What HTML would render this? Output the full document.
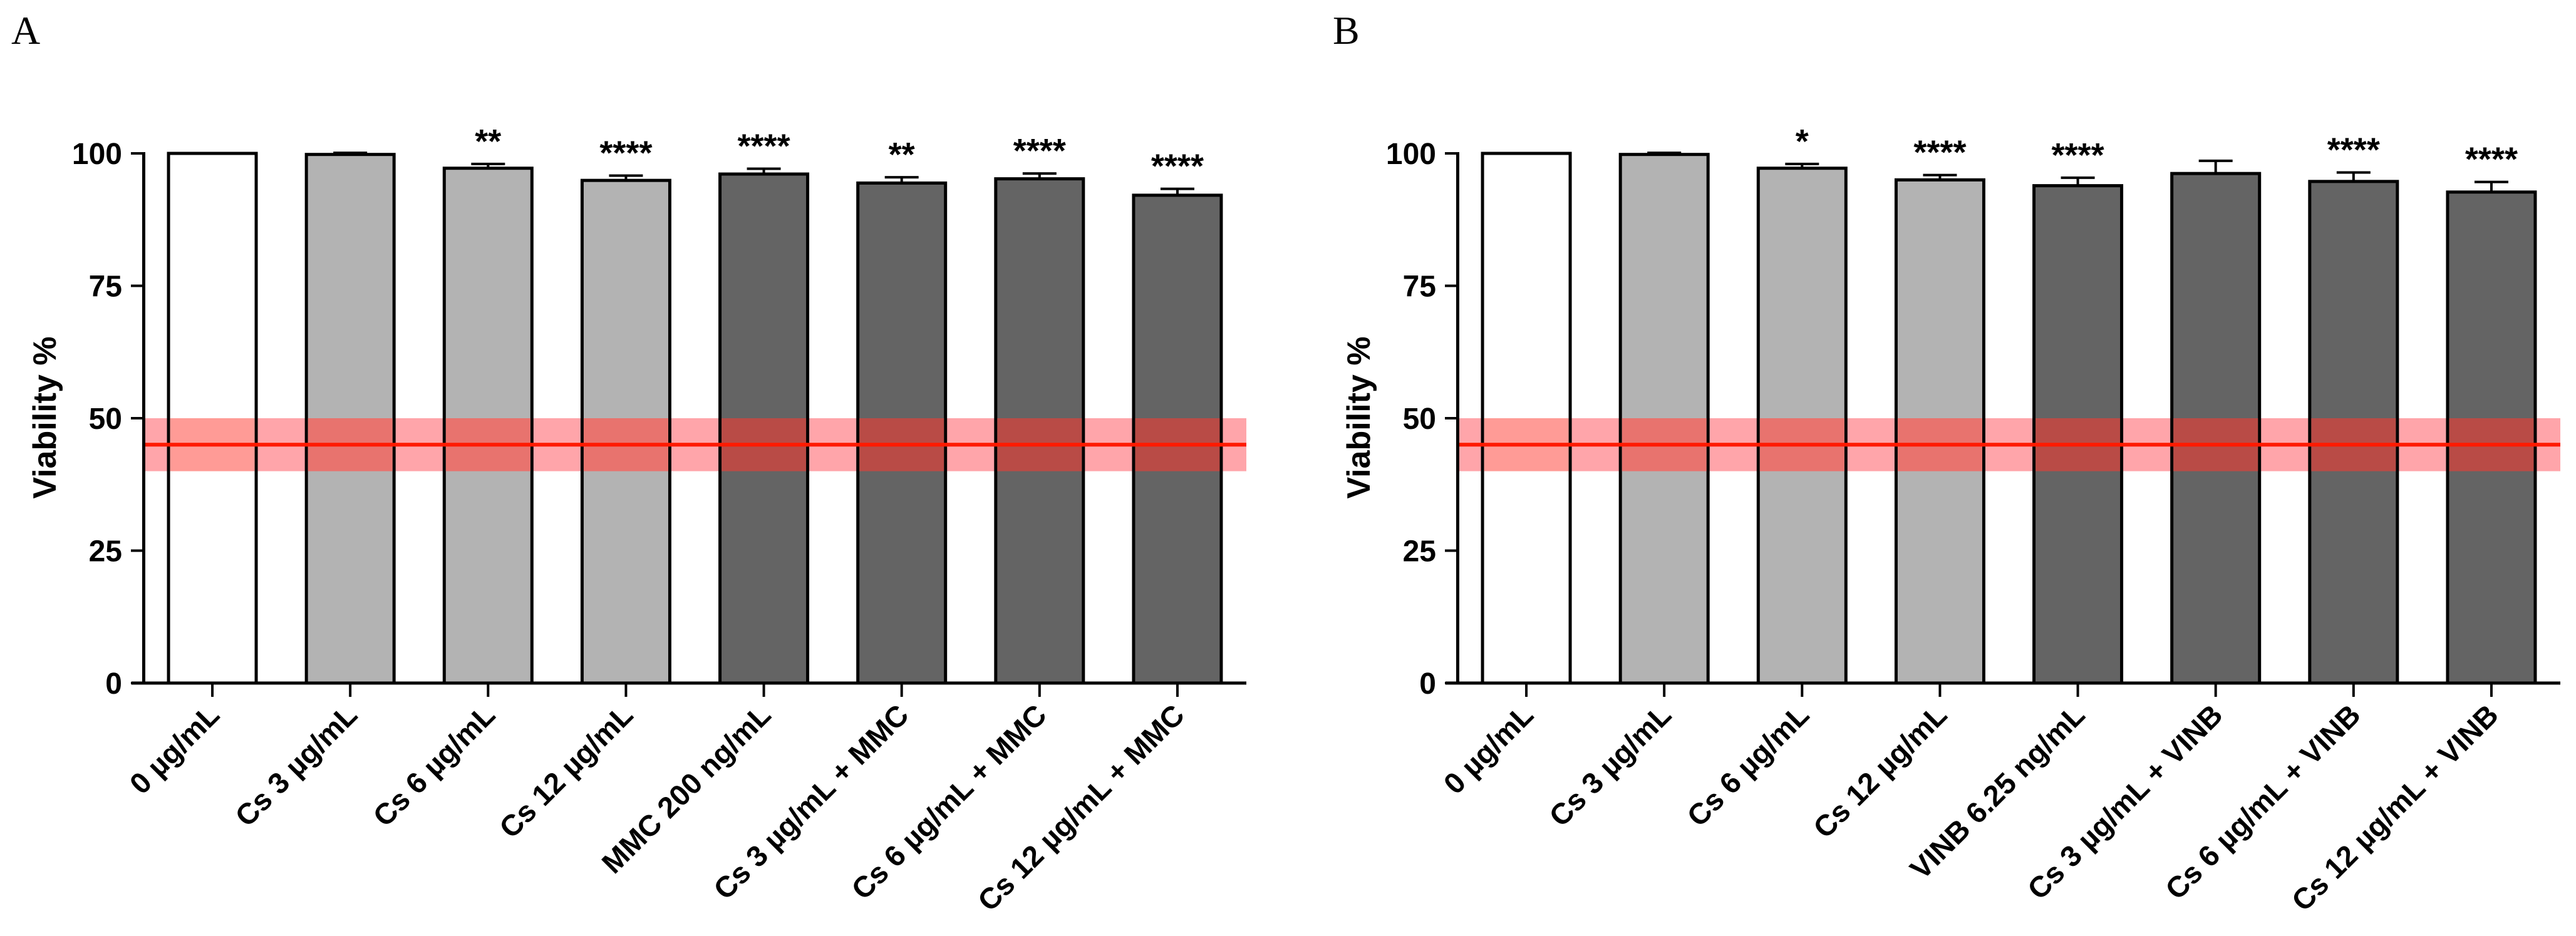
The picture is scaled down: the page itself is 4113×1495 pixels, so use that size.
<!DOCTYPE html>
<html><head><meta charset="utf-8"><style>
html,body{margin:0;padding:0;background:#fff;}
svg{display:block;font-family:"Liberation Sans",Arial,sans-serif;}
</style></head><body>
<svg id="fig" width="4113" height="1495" viewBox="0 0 4113 1495" xmlns="http://www.w3.org/2000/svg">
<text x="18" y="70" font-family="Liberation Serif,serif" font-size="64">A</text>
<text x="2128" y="70" font-family="Liberation Serif,serif" font-size="64">B</text>
</svg>
<script>
const catsA = ["0 µg/mL","Cs 3 µg/mL","Cs 6 µg/mL","Cs 12 µg/mL","MMC 200 ng/mL","Cs 3 µg/mL + MMC","Cs 6 µg/mL + MMC","Cs 12 µg/mL + MMC"];
const valsA = [100, 99.8, 97.2, 94.9, 96.1, 94.4, 95.2, 92.1];
const errsA = [0, 0.3, 0.8, 0.9, 1.0, 1.1, 1.0, 1.2];
const starsA = ["", "", "**", "****", "****", "**", "****", "****"];
const catsB = ["0 µg/mL","Cs 3 µg/mL","Cs 6 µg/mL","Cs 12 µg/mL","VINB 6.25 ng/mL","Cs 3 µg/mL + VINB","Cs 6 µg/mL + VINB","Cs 12 µg/mL + VINB"];
const valsB = [100, 99.8, 97.2, 95.0, 93.9, 96.2, 94.7, 92.7];
const errsB = [0, 0.3, 0.8, 0.9, 1.5, 2.4, 1.7, 1.9];
const starsB = ["", "", "*", "****", "****", "", "****", "****"];
const groups = ["ctrl","cs","cs","cs","drug","drug","drug","drug"];
const yTicks = [0, 25, 50, 75, 100];
const bandLow = 40, bandHigh = 50, refLine = 45;

const NS = "http://www.w3.org/2000/svg";
const svg = document.getElementById('fig');
const fillOf = {ctrl:"#ffffff", cs:"#b3b3b3", drug:"#646464"};
const tintOf = {ctrl:"#ff9b96", cs:"#e8736e", drug:"#b94b46"};
function mk(tag, attrs, parent){ const e=document.createElementNS(NS,tag); for(const k in attrs) e.setAttribute(k,attrs[k]); (parent||svg).appendChild(e); return e; }

function drawPanel(ox, cats, vals, errs, stars, key){
  const g = mk('g', {});
  
  
  const axX = ox + 229.5, x0 = ox + 229, x1 = ox + 1990;
  const y = v => 1091 - v * 8.46;
  const step = (x1 - x0) / cats.length;
  const cx = i => x0 + step * (i + 0.5);
  const bw = 140;
  const band = mk('rect', {x:x0, y:y(bandHigh), width:x1-x0, height:y(bandLow)-y(bandHigh), fill:"#ffa5aa"}, g);
  
  
  vals.forEach((v,i)=>{
    const b = mk('rect', {x:cx(i)-bw/2, y:y(v), width:bw, height:y(0)-y(v), fill:fillOf[groups[i]], stroke:"#000", "stroke-width":5}, g);
    
    
    const t = mk('rect', {x:cx(i)-bw/2+2.5, y:y(bandHigh), width:bw-5, height:y(bandLow)-y(bandHigh), fill:tintOf[groups[i]]}, g);
    
    
    if (errs[i] > 0) {
      const e = mk('path', {d:`M${cx(i)},${y(v)} V${y(v+errs[i])} M${cx(i)-27},${y(v+errs[i])} H${cx(i)+27}`, stroke:"#000", "stroke-width":4, fill:"none"}, g);
      
      
    }
    if (stars[i]) {
      const s = mk('text', {x:cx(i), y:y(v+errs[i])-18, "text-anchor":"middle", "font-size":54, "font-weight":"bold"}, g);
      s.textContent = stars[i];
      
      
    }
    const tk = mk('line', {x1:cx(i), x2:cx(i), y1:1091, y2:1113, stroke:"#000", "stroke-width":4}, g);
    
    
    const ax = cx(i)+14, ay = 1145;
    const lb = mk('text', {x:ax, y:ay, "text-anchor":"end", "font-size":47, "font-weight":"bold", transform:`rotate(-45 ${ax} ${ay})`}, g);
    lb.textContent = cats[i];
    
    
  });
  const rl = mk('line', {x1:x0, x2:x1, y1:y(refLine), y2:y(refLine), stroke:"#ff1a00", "stroke-width":6}, g);
  
  
  const ya = mk('line', {x1:axX, x2:axX, y1:y(100)-2, y2:1093, stroke:"#000", "stroke-width":5}, g);
  
  
  const xa = mk('line', {x1:ox+210, x2:x1, y1:1091, y2:1091, stroke:"#000", "stroke-width":5}, g);
  
  
  yTicks.forEach(t=>{
    const l = mk('line', {x1:ox+209, x2:axX, y1:y(t), y2:y(t), stroke:"#000", "stroke-width":4}, g);
    
    
    const tx = mk('text', {x:ox+195, y:y(t)+17, "text-anchor":"end", "font-size":48, "font-weight":"bold"}, g);
    tx.textContent = t;
    
    
  });
  const yt = mk('text', {x:ox+72, y:667, "text-anchor":"middle", "dominant-baseline":"central", "font-size":52, "font-weight":"bold", transform:`rotate(-90 ${ox+72} 667)`}, g);
  yt.textContent = "Viability %";
  
  
}
drawPanel(0, catsA, valsA, errsA, starsA, 'a');
drawPanel(2098, catsB, valsB, errsB, starsB, 'b');
</script>
</body></html>
